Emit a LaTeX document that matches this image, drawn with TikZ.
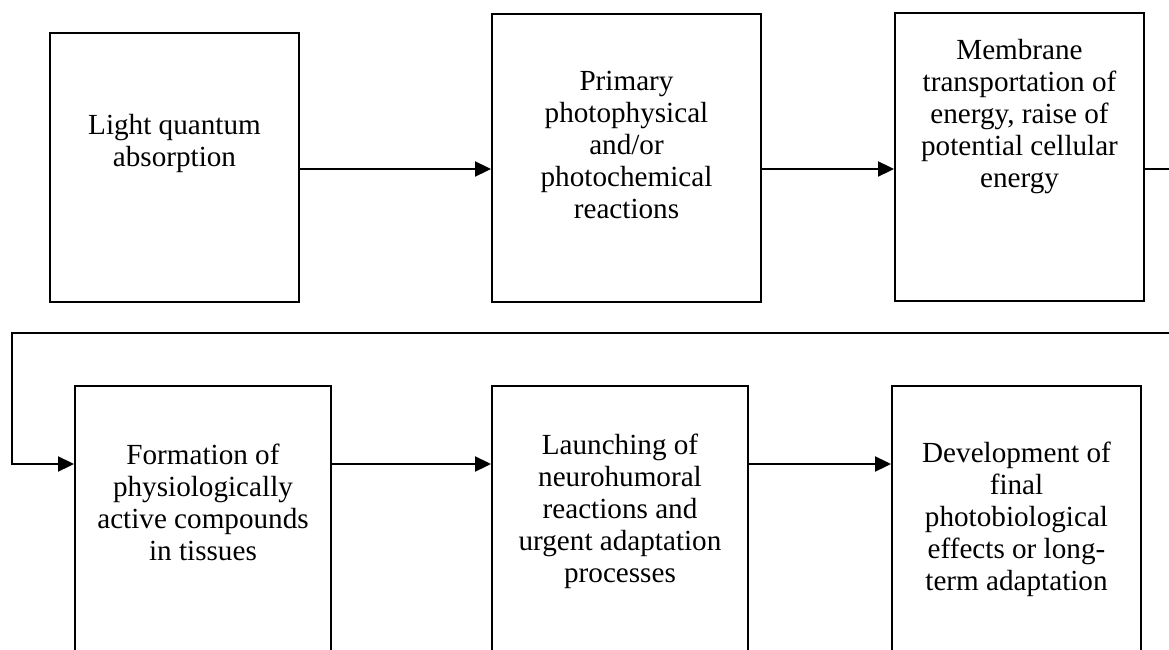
\documentclass[tikz,border=0pt]{standalone}
\usepackage{fontspec}
\setmainfont{Liberation Serif}
\usetikzlibrary{positioning,arrows.meta}

\begin{document}
\begin{tikzpicture}[x=0.02cm, y=-0.02cm,
    stage/.style={draw, line width=1.1pt, inner sep=0pt},
    stagetext/.style={align=center, inner sep=0pt,
      font=\fontsize{16.6pt}{18.2pt}\selectfont},
    flow/.style={line width=1.1pt, -{Triangle[length=0.32cm, width=0.3cm]}}]
  \useasboundingbox (0,0) rectangle (1169,649);
  \clip (0,0) rectangle (1169,649);

  % Top row
  \node[stage, minimum width=4.98cm, minimum height=5.38cm] (b1) at (174.5,167.5) {};
  \node[stage, minimum width=5.38cm, minimum height=5.76cm] (b2) at (626.5,158) {};
  \node[stage, minimum width=4.98cm, minimum height=5.76cm] (b3) at (1019.5,157) {};

  \node[stagetext, below=1.64cm of b1.north] (t1) {Light quantum\\absorption};
  \node[stagetext, below=1.16cm of b2.north] (t2) {Primary\\photophysical\\and/or\\photochemical\\reactions};
  \node[stagetext, below=0.54cm of b3.north] (t3) {Membrane\\transportation of\\energy, raise of\\potential cellular\\energy};

  % Bottom row
  \node[stage, minimum width=5.12cm, minimum height=6.28cm] (b4) at (203,543) {};
  \node[stage, minimum width=5.12cm, minimum height=6.28cm] (b5) at (620,543) {};
  \node[stage, minimum width=4.98cm, minimum height=6.28cm] (b6) at (1016.5,543) {};

  \node[stagetext, below=1.18cm of b4.north] (t4) {Formation of\\physiologically\\active compounds\\in tissues};
  \node[stagetext, below=0.98cm of b5.north] (t5) {Launching of\\neurohumoral\\reactions and\\urgent adaptation\\processes};
  \node[stagetext, below=1.14cm of b6.north] (t6) {Development of\\final\\photobiological\\effects or long-\\term adaptation};

  % Connectors
  \coordinate (toprow) at (0,169);
  \coordinate (botrow) at (0,464);
  \coordinate (r1) at (1190,169);
  \coordinate (r2) at (1190,333);
  \coordinate (l1) at (12,333);
  \coordinate (l2) at (12,464);

  \draw[flow] (toprow -| b1.east) -- (toprow -| b2.west);
  \draw[flow] (toprow -| b2.east) -- (toprow -| b3.west);
  \draw[flow] (toprow -| b3.east) -- (r1) -- (r2) -- (l1) -- (l2) -- (botrow -| b4.west);
  \draw[flow] (botrow -| b4.east) -- (botrow -| b5.west);
  \draw[flow] (botrow -| b5.east) -- (botrow -| b6.west);
\end{tikzpicture}
\end{document}
